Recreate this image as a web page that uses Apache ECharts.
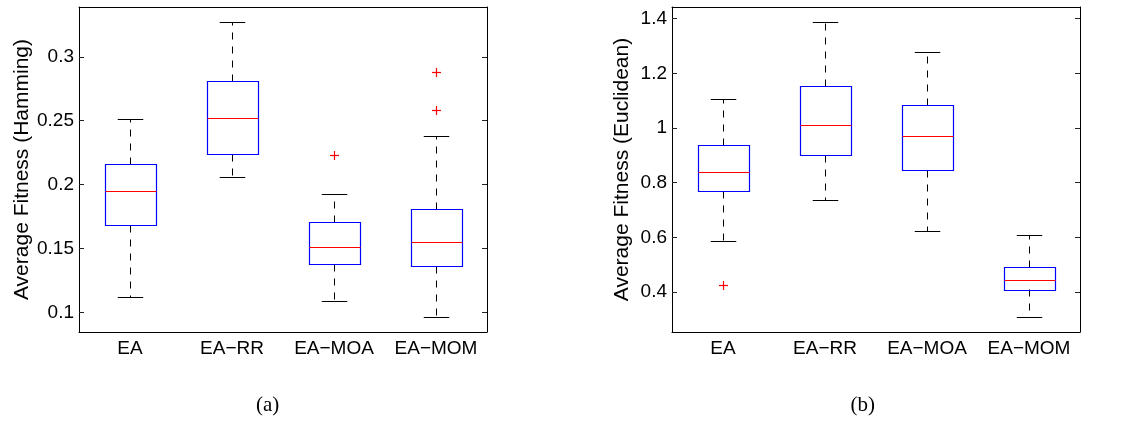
<!DOCTYPE html>
<html>
<head>
<meta charset="utf-8">
<script src="https://cdn.jsdelivr.net/npm/echarts@6/dist/echarts.min.js"></script>
<style>
html,body{margin:0;padding:0;background:#fff;}
#chart{width:1122px;height:421px;}
</style>
</head>
<body>
<div id="chart"></div>
<script>
// ---- data ----
const categories = ['EA', 'EA\u2212RR', 'EA\u2212MOA', 'EA\u2212MOM'];
// [lower whisker, Q1, median, Q3, upper whisker]
const hammingStats = [
  [0.112, 0.168, 0.195, 0.216, 0.251],
  [0.206, 0.224, 0.252, 0.281, 0.327],
  [0.109, 0.138, 0.151, 0.171, 0.193],
  [0.096, 0.136, 0.155, 0.181, 0.238]
];
const hammingOutliers = [[2, 0.223], [3, 0.288], [3, 0.258]];
const euclidStats = [
  [0.586, 0.769, 0.838, 0.936, 1.106],
  [0.737, 0.901, 1.012, 1.155, 1.387],
  [0.622, 0.846, 0.971, 1.083, 1.277],
  [0.307, 0.410, 0.445, 0.493, 0.610]
];
const euclidOutliers = [[0, 0.424]];
const hammingTicks = [0.1, 0.15, 0.2, 0.25, 0.3];
const hammingTickLabels = ['0.1', '0.15', '0.2', '0.25', '0.3'];
const euclidTicks = [0.4, 0.6, 0.8, 1.0, 1.2, 1.4];
const euclidTickLabels = ['0.4', '0.6', '0.8', '1', '1.2', '1.4'];
const hammingRange = [0.0846, 0.339];
const euclidRange = [0.2535, 1.4427];
const yNames = ['Average Fitness (Hamming)', 'Average Fitness (Euclidean)'];
const captions = ['(a)', '(b)'];

// ---- chart ----
const FONT = 'Liberation Sans, Arial, Helvetica, sans-serif';
const chart = echarts.init(document.getElementById('chart'), null, {renderer: 'canvas'});

function px(v) { return Math.round(v) + 0.5; }

function renderBox(params, api) {
  const i = api.value(0);
  const lo = api.coord([i, api.value(1)]);
  const q1 = api.coord([i, api.value(2)]);
  const md = api.coord([i, api.value(3)]);
  const q3 = api.coord([i, api.value(4)]);
  const hi = api.coord([i, api.value(5)]);
  const band = api.size([1, 0])[0];
  const bw = band * 0.5, cw = band * 0.25;
  const x = px(lo[0]);
  const dash = {stroke: '#000', lineWidth: 1, lineDash: [7, 7]};
  return {
    type: 'group',
    children: [
      {type: 'line', shape: {x1: x, y1: px(q3[1]), x2: x, y2: px(hi[1])}, style: dash},
      {type: 'line', shape: {x1: x, y1: px(q1[1]), x2: x, y2: px(lo[1])}, style: dash},
      {type: 'line', shape: {x1: x - cw / 2, y1: px(hi[1]), x2: x + cw / 2, y2: px(hi[1])}, style: {stroke: '#000', lineWidth: 1}},
      {type: 'line', shape: {x1: x - cw / 2, y1: px(lo[1]), x2: x + cw / 2, y2: px(lo[1])}, style: {stroke: '#000', lineWidth: 1}},
      {type: 'rect', shape: {x: px(x - bw / 2), y: px(q3[1]), width: Math.round(bw), height: Math.round(q1[1] - q3[1])},
        style: {stroke: '#0000ff', fill: 'none', lineWidth: 1.2}},
      {type: 'line', shape: {x1: px(x - bw / 2), y1: px(md[1]), x2: px(x - bw / 2) + Math.round(bw), y2: px(md[1])},
        style: {stroke: '#ff0000', lineWidth: 1}}
    ]
  };
}

function renderPlus(params, api) {
  const p = api.coord([api.value(0), api.value(1)]);
  const x = px(p[0]), y = px(p[1]), h = 4.5;
  return {
    type: 'group',
    children: [
      {type: 'line', z2: 10, shape: {x1: x - h, y1: y, x2: x + h, y2: y}, style: {stroke: '#ff0000', fill: 'none', lineWidth: 1.2}},
      {type: 'line', z2: 10, shape: {x1: x, y1: y - h, x2: x, y2: y + h}, style: {stroke: '#ff0000', fill: 'none', lineWidth: 1.2}}
    ]
  };
}

const grids = [
  {left: 79, top: 7, width: 408, height: 325},
  {left: 672, top: 7, width: 408, height: 325}
];
const ranges = [hammingRange, euclidRange];
const ticks = [hammingTicks, euclidTicks];
const tickLabels = [hammingTickLabels, euclidTickLabels];
const stats = [hammingStats, euclidStats];
const outliers = [hammingOutliers, euclidOutliers];
const nameGaps = [46, 39];

const xAxes = [], yAxes = [], series = [];
grids.forEach(function (g, k) {
  const tl = tickLabels[k], tv = ticks[k];
  xAxes.push({
    type: 'category', gridIndex: k, data: categories, position: 'bottom',
    axisLine: {lineStyle: {color: '#000', width: 1}},
    axisTick: {inside: true, length: 5, alignWithLabel: true, lineStyle: {color: '#222'}},
    axisLabel: {color: '#000', fontFamily: FONT, fontSize: 19, margin: 7, interval: 0, hideOverlap: false},
    splitLine: {show: false}
  });
  xAxes.push({
    type: 'category', gridIndex: k, data: categories, position: 'top',
    axisLine: {lineStyle: {color: '#000', width: 1}},
    axisTick: {inside: true, length: 5, alignWithLabel: true, lineStyle: {color: '#222'}},
    axisLabel: {show: false}, splitLine: {show: false}
  });
  yAxes.push({
    type: 'value', gridIndex: k, min: ranges[k][0], max: ranges[k][1], position: 'left',
    name: yNames[k], nameLocation: 'middle', nameRotate: 90, nameGap: nameGaps[k],
    nameTextStyle: {color: '#000', fontFamily: FONT, fontSize: 21},
    axisLine: {show: true, lineStyle: {color: '#000', width: 1}},
    axisTick: {show: true, inside: true, length: 5, customValues: tv, lineStyle: {color: '#222'}},
    axisLabel: {color: '#000', fontFamily: FONT, fontSize: 19, margin: 5, customValues: tv,
      formatter: function (v) { const j = tv.findIndex(function (t) { return Math.abs(t - v) < 1e-9; }); return j >= 0 ? tl[j] : ''; }},
    splitLine: {show: false}
  });
  yAxes.push({
    type: 'value', gridIndex: k, min: ranges[k][0], max: ranges[k][1], position: 'right',
    axisLine: {show: true, lineStyle: {color: '#000', width: 1}},
    axisTick: {show: true, inside: true, length: 5, customValues: tv, lineStyle: {color: '#222'}},
    axisLabel: {show: false}, splitLine: {show: false}
  });
  series.push({
    type: 'custom', xAxisIndex: 2 * k, yAxisIndex: 2 * k, renderItem: renderBox,
    data: stats[k].map(function (s, i) { return [i].concat(s); }),
    silent: true, clip: false, animation: false
  });
  series.push({
    type: 'custom', xAxisIndex: 2 * k, yAxisIndex: 2 * k, renderItem: renderPlus,
    data: outliers[k], silent: true, animation: false, z: 5,
    itemStyle: {color: '#ff0000'}
  });
});

chart.setOption({
  animation: false,
  backgroundColor: '#fff',
  grid: grids.map(function (g) { return Object.assign({show: false, containLabel: false}, g); }),
  xAxis: xAxes,
  yAxis: yAxes,
  series: series,
  graphic: [
    {type: 'text', x: 267.7, y: 405, style: {text: captions[0], align: 'center', verticalAlign: 'middle', font: '21px "Liberation Serif", "DejaVu Serif", serif', fill: '#000'}},
    {type: 'text', x: 862.7, y: 405, style: {text: captions[1], align: 'center', verticalAlign: 'middle', font: '21px "Liberation Serif", "DejaVu Serif", serif', fill: '#000'}}
  ]
});
</script>
</body>
</html>
